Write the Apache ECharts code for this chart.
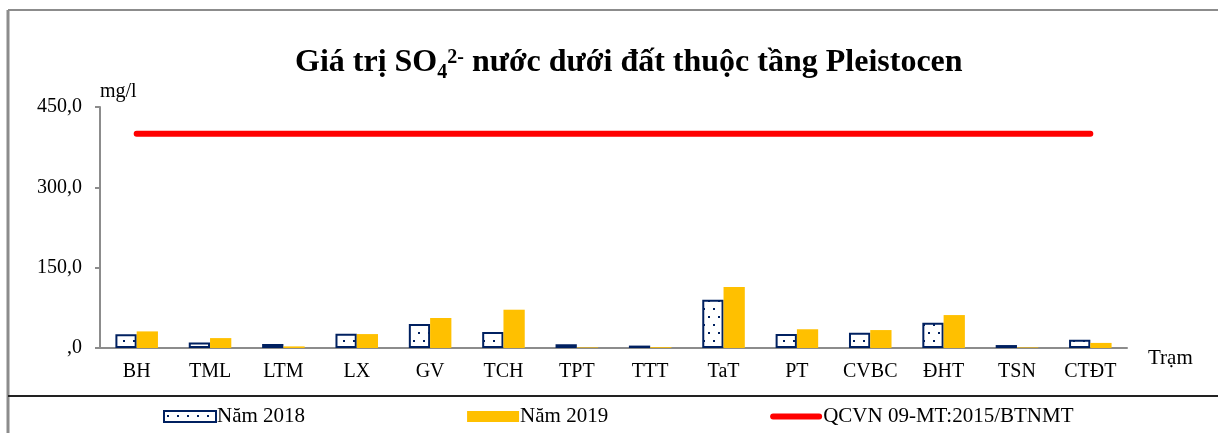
<!DOCTYPE html>
<html>
<head>
<meta charset="utf-8">
<script src="https://cdn.jsdelivr.net/npm/echarts@6/dist/echarts.min.js"></script>
<style>
  html, body { margin: 0; padding: 0; background: #fff; }
  #main { width: 1218px; height: 433px; }
</style>
</head>
<body>
<div id="main"></div>
<script>
var stations = ['BH', 'TML', 'LTM', 'LX', 'GV', 'TCH', 'TPT', 'TTT', 'TaT', 'PT', 'CVBC', 'ĐHT', 'TSN', 'CTĐT'];
var nam2018 = [25.5, 10.5, 7.5, 26.5, 45, 30, 7, 4.5, 90, 26, 28.5, 47, 5.5, 15.5];
var nam2019 = [31, 18.5, 3, 26, 56, 71.5, 1, 1.5, 114, 35, 33.5, 61.5, 1, 9.5];
var qcvn = [400, 400, 400, 400, 400, 400, 400, 400, 400, 400, 400, 400, 400, 400];

var serif = 'Liberation Serif';
var navy = '#002060';

// dotted fill for the 2018 bars
var pat = document.createElement('canvas');
pat.width = 10;
pat.height = 16;
var pctx = pat.getContext('2d');
pctx.fillStyle = '#fff';
pctx.fillRect(0, 0, 10, 16);
pctx.fillStyle = navy;
pctx.fillRect(3, 4, 2, 2);
pctx.fillRect(8, 12, 2, 2);

var chart = echarts.init(document.getElementById('main'));
var option = {
  animation: false,
  backgroundColor: '#fff',
  title: {
    text: '{b|Giá trị SO}{sub|4}{sup|2-}{b| nước dưới đất thuộc tầng Pleistocen}',
    left: 290,
    top: 38,
    textStyle: {
      rich: {
        b: { fontFamily: serif, fontWeight: 'bold', fontSize: 32, color: '#000', lineHeight: 40 },
        sub: { fontFamily: serif, fontWeight: 'bold', fontSize: 20, color: '#000', verticalAlign: 'bottom', lineHeight: 40, padding: [14, 0, 0, 0] },
        sup: { fontFamily: serif, fontWeight: 'bold', fontSize: 20, color: '#000', verticalAlign: 'top', lineHeight: 40, padding: [5, 0, 0, 0] }
      }
    }
  },
  legend: {
    top: 406,
    left: 163,
    padding: 0,
    itemWidth: 52,
    itemHeight: 11,
    itemGap: 162,
    textStyle: { fontFamily: serif, fontSize: 21, color: '#000', padding: [0, 0, 0, -4] },
    data: [
      { name: 'Năm 2018', icon: 'rect' },
      { name: 'Năm 2019', icon: 'rect' },
      { name: 'QCVN 09-MT:2015/BTNMT', icon: 'path://M3,0 L49,0 A3,3 0 0 1 49,6 L3,6 A3,3 0 0 1 3,0 Z' }
    ]
  },
  grid: { left: 100, right: 91, top: 107, bottom: 85 },
  xAxis: {
    type: 'category',
    data: stations,
    name: 'Trạm',
    nameGap: 21,
    nameTextStyle: { fontFamily: serif, fontSize: 21, color: '#000', verticalAlign: 'top' },
    axisLine: { lineStyle: { color: '#8c8c8c', width: 2 } },
    axisTick: { alignWithLabel: false, length: 6, lineStyle: { color: '#8c8c8c', width: 2 } },
    axisLabel: { fontFamily: serif, fontSize: 20, color: '#000', margin: 14 }
  },
  yAxis: {
    type: 'value',
    min: 0,
    max: 450,
    interval: 150,
    name: 'mg/l',
    nameGap: 5,
    nameTextStyle: { fontFamily: serif, fontSize: 20, color: '#000', align: 'left' },
    splitLine: { show: false },
    axisLine: { show: true, lineStyle: { color: '#8c8c8c', width: 2 } },
    axisTick: { show: true, length: 5, lineStyle: { color: '#8c8c8c', width: 2 } },
    axisLabel: {
      fontFamily: serif, fontSize: 20, color: '#000', margin: 18,
      formatter: function (v) { return v === 0 ? ',0' : v.toFixed(1).replace('.', ','); }
    }
  },
  series: [
    {
      name: 'Năm 2018',
      type: 'bar',
      data: nam2018,
      barGap: '0%',
      barCategoryGap: '42%',
      itemStyle: { color: { image: pat, repeat: 'repeat' }, borderColor: navy, borderWidth: 2 }
    },
    {
      name: 'Năm 2019',
      type: 'bar',
      data: nam2019,
      itemStyle: { color: '#FFC000' }
    },
    {
      name: 'QCVN 09-MT:2015/BTNMT',
      type: 'line',
      data: qcvn,
      symbol: 'none',
      lineStyle: { color: '#FF0000', width: 6, cap: 'round' },
      itemStyle: { color: '#FF0000' }
    }
  ],
  graphic: [
    { type: 'line', shape: { x1: 8, y1: 10, x2: 8, y2: 433 }, style: { stroke: '#8c8c8c', lineWidth: 3 } },
    { type: 'line', shape: { x1: 8, y1: 10, x2: 1218, y2: 10 }, style: { stroke: '#8c8c8c', lineWidth: 2 } },
    { type: 'line', shape: { x1: 8, y1: 396, x2: 1218, y2: 396 }, style: { stroke: '#222', lineWidth: 2 } }
  ]
};
chart.setOption(option);
</script>
</body>
</html>
